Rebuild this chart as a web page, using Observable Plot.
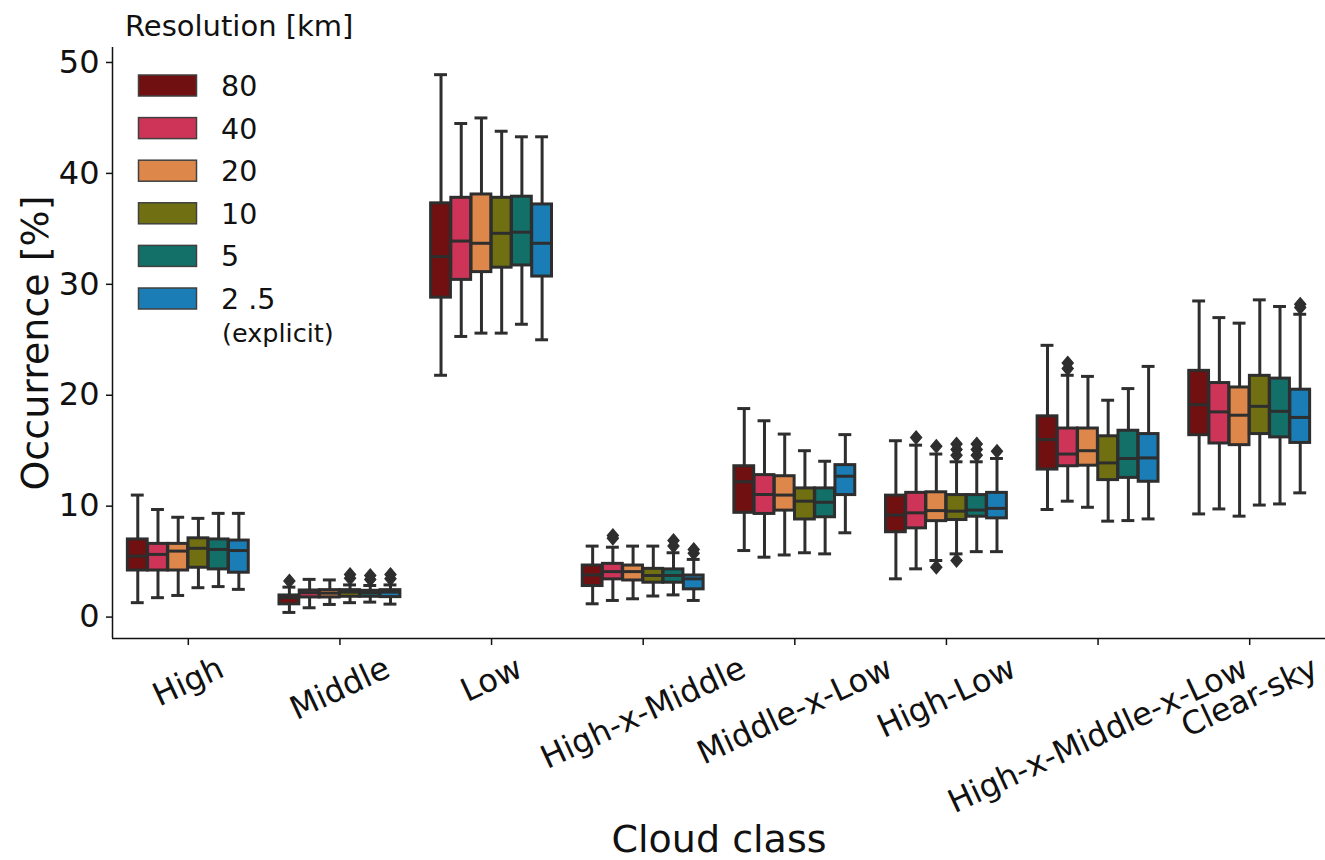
<!DOCTYPE html>
<html><head><meta charset="utf-8">
<script src="https://cdn.jsdelivr.net/npm/d3@7"></script>
<script src="https://cdn.jsdelivr.net/npm/@observablehq/plot@0.6"></script>
<style>
html,body{margin:0;padding:0;background:#fff;}
#wrap{position:relative;width:1325px;height:860px;}
#legend{position:absolute;left:0;top:0;pointer-events:none;}
</style></head><body><div id="wrap"></div>
<script>
// ---- data ----
const categories = ["High","Middle","Low","High-x-Middle","Middle-x-Low","High-Low","High-x-Middle-x-Low","Clear-sky"];
const resolutions = ["80","40","20","10","5","2.5"];
const legendLabels = ["80","40","20","10","5","2 .5"];
const colors = ["#701010","#cd3458","#dd884a","#707012","#127068","#1a7db5"];
const yTicks = [0,10,20,30,40,50];

// rows: categories, columns: resolutions
const whiskerLow = [
  [1.3, 1.75, 1.95, 2.65, 2.75, 2.5],
  [0.42, 0.84, 1.14, 1.3, 1.35, 1.17],
  [21.8, 25.3, 25.6, 25.6, 26.4, 25.0],
  [1.2, 1.5, 1.65, 1.9, 2.0, 1.5],
  [6.0, 5.4, 5.6, 5.8, 5.7, 7.6],
  [3.45, 4.35, 5.1, 5.7, 5.9, 5.9],
  [9.7, 10.45, 9.9, 8.65, 8.7, 8.85],
  [9.3, 9.75, 9.1, 10.1, 10.2, 11.2]
];
const q1 = [
  [4.2, 4.2, 4.2, 4.45, 4.3, 4.0],
  [1.15, 1.77, 1.77, 1.83, 1.83, 1.8],
  [28.8, 30.4, 31.1, 31.5, 31.7, 30.7],
  [2.8, 3.4, 3.3, 3.1, 3.1, 2.5],
  [9.4, 9.3, 9.6, 8.8, 9.0, 11.0],
  [7.65, 8.0, 8.65, 8.75, 9.05, 8.9],
  [13.3, 13.6, 13.65, 12.35, 12.55, 12.2],
  [16.4, 15.65, 15.5, 16.5, 16.2, 15.7]
];
const median = [
  [5.5, 5.65, 5.95, 6.2, 6.1, 6.0],
  [1.75, 2.2, 2.16, 2.25, 2.2, 2.25],
  [32.5, 33.9, 33.7, 34.6, 34.7, 33.7],
  [3.8, 4.1, 4.1, 3.75, 3.75, 3.45],
  [12.2, 11.05, 11.0, 10.45, 10.35, 12.7],
  [9.2, 9.4, 9.6, 9.55, 9.65, 9.8],
  [16.0, 14.7, 15.0, 13.9, 14.3, 14.35],
  [19.15, 18.5, 18.2, 19.0, 18.55, 18.0]
];
const q3 = [
  [7.0, 6.6, 6.6, 7.1, 7.0, 6.9],
  [1.95, 2.4, 2.43, 2.43, 2.37, 2.43],
  [37.3, 37.8, 38.1, 37.8, 37.9, 37.2],
  [4.65, 4.8, 4.65, 4.35, 4.3, 3.75],
  [13.6, 12.8, 12.7, 11.6, 11.6, 13.7],
  [10.95, 11.2, 11.25, 11.0, 11.0, 11.2],
  [18.1, 17.0, 17.0, 16.3, 16.8, 16.5],
  [22.2, 21.1, 20.7, 21.75, 21.5, 20.5]
];
const whiskerHigh = [
  [11.0, 9.7, 9.0, 8.9, 9.35, 9.35],
  [2.7, 3.4, 3.35, 2.9, 2.85, 2.9],
  [48.9, 44.5, 45.0, 43.8, 43.3, 43.3],
  [6.4, 6.3, 6.4, 6.4, 5.8, 5.2],
  [18.8, 17.7, 16.5, 15.0, 14.05, 16.45],
  [15.9, 15.5, 14.7, 14.0, 14.0, 14.3],
  [24.5, 21.8, 21.7, 19.55, 20.6, 22.6],
  [28.5, 27.0, 26.5, 28.6, 28.0, 27.3]
];
// [category, resolution, value]
const outliers = [
  ["Middle","80",3.25],
  ["Middle","10",3.5],["Middle","10",3.85],
  ["Middle","5",3.4],["Middle","5",3.75],
  ["Middle","2.5",3.45],["Middle","2.5",3.85],
  ["High-x-Middle","40",7.1],["High-x-Middle","40",7.35],
  ["High-x-Middle","5",6.4],["High-x-Middle","5",6.9],
  ["High-x-Middle","2.5",5.75],["High-x-Middle","2.5",6.1],
  ["High-Low","40",16.2],
  ["High-Low","20",15.4],["High-Low","20",4.5],
  ["High-Low","10",14.6],["High-Low","10",15.1],["High-Low","10",15.6],["High-Low","10",5.1],
  ["High-Low","5",14.6],["High-Low","5",15.1],["High-Low","5",15.6],
  ["High-Low","2.5",14.95],
  ["High-x-Middle-x-Low","40",22.4],["High-x-Middle-x-Low","40",22.9],
  ["Clear-sky","2.5",27.9],["Clear-sky","2.5",28.2]
];

// ---- layout helpers ----
const groupWidth = 0.8;
const slot = groupWidth / resolutions.length;
const boxW = slot * 0.98;
const capHalf = boxW / 4;
const edge = "#2e2e2e";
const ink = "#111111";
const posOf = (ci, ri) => ci + (ri - (resolutions.length - 1) / 2) * slot;

const rows = [];
categories.forEach((c, ci) => resolutions.forEach((r, ri) => {
  rows.push({cat: c, res: r, pos: posOf(ci, ri),
    lo: whiskerLow[ci][ri], q1: q1[ci][ri], med: median[ci][ri], q3: q3[ci][ri], hi: whiskerHigh[ci][ri]});
}));
const outs = outliers.map(([c, r, v]) => ({pos: posOf(categories.indexOf(c), resolutions.indexOf(r)), v}));

const thinDiamond = {draw(ctx, size) {
  const h = Math.sqrt(size) * 0.7, w = h * 0.85;
  ctx.moveTo(0, -h); ctx.lineTo(w, 0); ctx.lineTo(0, h); ctx.lineTo(-w, 0); ctx.closePath();
}};

// x tick label offsets (matplotlib-like centered rotated labels)
const tickFs = 32, ang = 25 * Math.PI / 180;
const cvs = document.createElement("canvas").getContext("2d");
cvs.font = `${tickFs}px "DejaVu Sans"`;
const xLabelMarks = categories.map((c, ci) => {
  const w = cvs.measureText(c).width;
  const hb = w * Math.sin(ang) + 1.164 * tickFs * Math.cos(ang);
  return Plot.text([ci], {x: d => d, text: d => categories[d], frameAnchor: "bottom", dy: 11 + hb / 2,
    rotate: -25, fontSize: tickFs, textAnchor: "middle", lineAnchor: "middle", fill: ink});
});

const yDomain = [-1.93, 51.35];
const chart = Plot.plot({
  width: 1325, height: 860,
  marginLeft: 112, marginRight: 0, marginTop: 47, marginBottom: 222,
  style: {fontFamily: "DejaVu Sans", color: ink, background: "#fff", overflow: "visible"},
  x: {domain: [-0.5, categories.length - 0.5], axis: null},
  y: {domain: yDomain, axis: null},
  color: {domain: resolutions, range: colors},
  marks: [
    Plot.axisY({ticks: yTicks, tickSize: 6, tickPadding: 7, fontSize: 32, label: null, tickFormat: d => d, strokeWidth: 1.5}),
    Plot.axisX({ticks: d3.range(categories.length), tickSize: 7, tickFormat: () => "", label: null, strokeWidth: 1.5}),
    Plot.ruleX([-0.5], {stroke: ink, strokeWidth: 1.5}),
    Plot.ruleY([yDomain[0]], {stroke: ink, strokeWidth: 1.5}),
    Plot.ruleX(rows, {x: "pos", y1: "lo", y2: "hi", stroke: edge, strokeWidth: 3}),
    Plot.ruleY(rows, {y: "lo", x1: d => d.pos - capHalf, x2: d => d.pos + capHalf, stroke: edge, strokeWidth: 3, strokeLinecap: "square"}),
    Plot.ruleY(rows, {y: "hi", x1: d => d.pos - capHalf, x2: d => d.pos + capHalf, stroke: edge, strokeWidth: 3, strokeLinecap: "square"}),
    Plot.rect(rows, {x1: d => d.pos - boxW / 2, x2: d => d.pos + boxW / 2, y1: "q1", y2: "q3", fill: "res", stroke: edge, strokeWidth: 3}),
    Plot.ruleY(rows, {y: "med", x1: d => d.pos - boxW / 2, x2: d => d.pos + boxW / 2, stroke: edge, strokeWidth: 3}),
    Plot.dot(outs, {x: "pos", y: "v", symbol: thinDiamond, r: 5.3, fill: edge, stroke: edge, strokeWidth: 1.2}),
    ...xLabelMarks,
    Plot.text(["Cloud class"], {text: d => d, frameAnchor: "bottom", dy: 213.7, lineAnchor: "bottom", fontSize: 38, fill: ink}),
    Plot.text(["Occurrence [%]"], {text: d => d, frameAnchor: "left", dx: -65, rotate: -90, lineAnchor: "bottom", textAnchor: "middle", fontSize: 38, fill: ink})
  ]
});
const wrap = document.getElementById("wrap");
wrap.appendChild(chart);

// ---- legend (overlay) ----
const leg = d3.select(wrap).append("svg").attr("id", "legend").attr("width", 1325).attr("height", 860)
  .style("font-family", "DejaVu Sans");
leg.append("text").attr("x", 125).attr("y", 36).attr("font-size", 29).attr("fill", ink).text("Resolution [km]");
legendLabels.forEach((lab, i) => {
  const top = 75 + i * 42.6;
  leg.append("rect").attr("x", 138.5).attr("y", top).attr("width", 58).attr("height", 21)
    .attr("fill", colors[i]).attr("stroke", "#404040").attr("stroke-width", 1.5);
  leg.append("text").attr("x", 221).attr("y", top + 21).attr("font-size", 28.5).attr("fill", ink).text(lab);
});
leg.append("text").attr("x", 222).attr("y", 342).attr("font-size", 25.5).attr("fill", ink).text("(explicit)");
</script></body></html>
